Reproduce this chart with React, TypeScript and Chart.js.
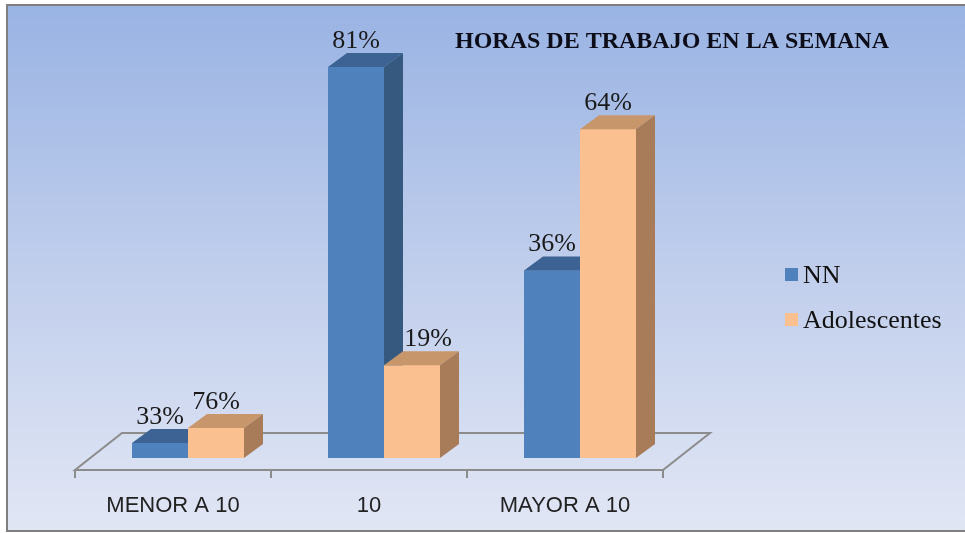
import React, { useEffect, useRef } from "react";
import { Chart, registerables } from "chart.js";

Chart.register(...registerables);

const categories = ["MENOR A 10", "10", "MAYOR A 10"];
const seriesNames = ["NN", "Adolescentes"];
const nnValues = [3.1, 80.9, 38.8];
const adolValues = [6.2, 19.2, 68.0];
const nnLabels = ["33%", "81%", "36%"];
const adolLabels = ["76%", "19%", "64%"];
const chartTitle = "HORAS DE TRABAJO EN LA SEMANA";

const FRONT = ["#4f81bd", "#fac08f"];
const TOP = ["#3c6394", "#c8966b"];
const SIDE = ["#35597f", "#a87c58"];

const DX = 19;
const DY = 14;

const threeD = {
  id: "threeD",
  beforeDraw(chart: any) {
    const { ctx, width, height } = chart;
    ctx.save();
    ctx.fillStyle = "#ffffff";
    ctx.fillRect(0, 0, width, height);
    const g = ctx.createLinearGradient(0, 5, 0, 531);
    g.addColorStop(0, "#99b3e3");
    g.addColorStop(0.5, "#c0ceec");
    g.addColorStop(1, "#e1e6f4");
    ctx.fillStyle = g;
    ctx.fillRect(7, 5, width - 7, 526);
    ctx.strokeStyle = "#7f7f7f";
    ctx.lineWidth = 2;
    ctx.beginPath();
    ctx.moveTo(width, 5);
    ctx.lineTo(7, 5);
    ctx.lineTo(7, 531);
    ctx.lineTo(width, 531);
    ctx.stroke();
    ctx.restore();
  },
  beforeDatasetsDraw(chart: any) {
    const { ctx, chartArea } = chart;
    const { left, right, bottom } = chartArea;
    const fy = bottom + 12;
    const by = bottom - 25;
    const fl = left - 15;
    const fr = right - 15;
    const bl = left + 32;
    const br = right + 32;
    ctx.save();
    ctx.strokeStyle = "#8c8c8c";
    ctx.lineWidth = 2;
    ctx.beginPath();
    ctx.moveTo(fl, fy);
    ctx.lineTo(fr, fy);
    ctx.lineTo(br, by);
    ctx.lineTo(bl, by);
    ctx.closePath();
    ctx.stroke();
    const n = categories.length;
    ctx.beginPath();
    for (let i = 0; i <= n; i++) {
      const x = fl + ((fr - fl) * i) / n;
      ctx.moveTo(x, fy);
      ctx.lineTo(x, fy + 8);
    }
    ctx.stroke();
    ctx.restore();
  },
  afterDatasetsDraw(chart: any) {
    const { ctx } = chart;
    const metas = [chart.getDatasetMeta(0), chart.getDatasetMeta(1)];
    ctx.save();
    for (let i = 0; i < categories.length; i++) {
      for (let di = 0; di < 2; di++) {
        const bar = metas[di].data[i];
        const { x, y, base, width } = bar.getProps(["x", "y", "base", "width"], true);
        const x1 = x - width / 2;
        const x2 = x + width / 2;
        bar.draw(ctx);
        ctx.fillStyle = TOP[di];
        ctx.beginPath();
        ctx.moveTo(x1, y);
        ctx.lineTo(x2, y);
        ctx.lineTo(x2 + DX, y - DY);
        ctx.lineTo(x1 + DX, y - DY);
        ctx.closePath();
        ctx.fill();
        ctx.fillStyle = SIDE[di];
        ctx.beginPath();
        ctx.moveTo(x2, y);
        ctx.lineTo(x2 + DX, y - DY);
        ctx.lineTo(x2 + DX, base - DY);
        ctx.lineTo(x2, base);
        ctx.closePath();
        ctx.fill();
      }
    }
    ctx.restore();
  },
  afterDraw(chart: any) {
    const { ctx } = chart;
    const xs = chart.scales.x;
    ctx.save();
    ctx.fillStyle = "#1a1a1a";
    ctx.font = "26px 'Liberation Serif', 'Times New Roman', serif";
    ctx.textAlign = "center";
    ctx.textBaseline = "alphabetic";
    const labelSets = [nnLabels, adolLabels];
    const m0 = chart.getDatasetMeta(0);
    [0, 1].forEach((di) => {
      const meta = chart.getDatasetMeta(di);
      meta.data.forEach((bar: any, i: number) => {
        const { x, y } = bar.getProps(["x", "y"], true);
        let lx = x;
        const ly = y - DY - 5;
        if (di === 1) {
          const prev = m0.data[i].getProps(["y"], true);
          if (prev.y < ly - 20) lx = x + 16; // avoid the taller neighbour bar
        }
        ctx.fillText(labelSets[di][i], lx, ly);
      });
    });
    ctx.fillStyle = "#222222";
    ctx.font = "22px 'Liberation Sans', Arial, sans-serif";
    categories.forEach((c, i) => {
      ctx.fillText(c, xs.getPixelForValue(i) - 15, 512);
    });
    ctx.fillStyle = "#0d0d1a";
    ctx.font = "bold 24px 'Liberation Serif', 'Times New Roman', serif";
    ctx.fillText(chartTitle, 672, 48);
    ctx.textAlign = "left";
    ctx.font = "26px 'Liberation Serif', 'Times New Roman', serif";
    chart.data.datasets.forEach((ds: any, di: number) => {
      const yTop = 268 + di * 45;
      ctx.fillStyle = FRONT[di];
      ctx.fillRect(785, yTop, 13, 13);
      ctx.fillStyle = "#111111";
      ctx.fillText(ds.label, 803, yTop + 15);
    });
    ctx.restore();
  },
};

export default function App() {
  const ref = useRef<HTMLCanvasElement | null>(null);
  useEffect(() => {
    if (!ref.current) return;
    const chart = new Chart(ref.current, {
      type: "bar",
      data: {
        labels: categories,
        datasets: [
          { label: seriesNames[0], data: nnValues, backgroundColor: FRONT[0], borderWidth: 0 },
          { label: seriesNames[1], data: adolValues, backgroundColor: FRONT[1], borderWidth: 0 },
        ],
      },
      options: {
        responsive: false,
        animation: false,
        events: [],
        devicePixelRatio: 1,
        layout: { padding: { left: 90, right: 287, top: 23, bottom: 75 } },
        datasets: { bar: { categoryPercentage: 112 / 196, barPercentage: 1 } },
        scales: {
          x: { display: false, offset: true },
          y: { display: false, min: 0, max: 90 },
        },
        plugins: {
          legend: { display: false },
          title: { display: false },
          tooltip: { enabled: false },
        },
      },
      plugins: [threeD],
    });
    return () => chart.destroy();
  }, []);
  return (
    <div style={{ position: "fixed", left: 0, top: 0, width: 965, height: 533 }}>
      <canvas ref={ref} width={965} height={533} style={{ display: "block", width: 965, height: 533 }} />
    </div>
  );
}
